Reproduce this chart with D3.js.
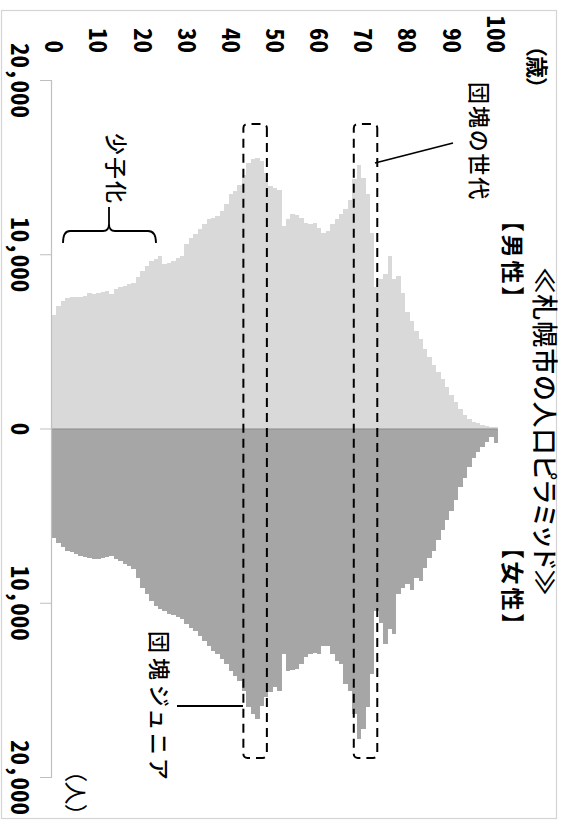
<!DOCTYPE html>
<html><head><meta charset="utf-8">
<script src="https://cdn.jsdelivr.net/npm/d3@7"></script>
<style>
html,body{margin:0;padding:0;background:#fff;}
svg{display:block;}
.jp{font-family:"Noto Sans CJK JP",sans-serif;font-feature-settings:"palt";}
.num{font-family:"Noto Sans Mono CJK JP","Liberation Sans Narrow","Liberation Sans",sans-serif;font-weight:700;}
</style></head>
<body>
<svg id="c" width="566" height="821"></svg>
<script>
// ---- data (ages 0..100, persons) ----
const ages = d3.range(0, 101);
const male = [6500,7050,7330,7470,7520,7560,7520,7580,7800,7700,
 7770,7850,7900,7700,8000,8100,8200,8300,8350,8670,
 9050,9330,9620,9710,9900,9430,9500,9620,9800,9900,
 10570,10950,11140,11430,11710,12000,12100,12190,12480,12860,
 13430,13620,14000,14570,15240,15470,15520,15330,14670,13900,
 13810,13710,11620,12000,12290,12230,12100,11810,11710,11810,
 11520,11240,11330,11710,12000,12290,12570,13140,14290,15140,
 14380,13430,11240,8100,8570,8860,9900,8570,8760,7800,
 6670,6190,5620,5140,4570,4100,3620,3240,2860,2380,
 1900,1520,1140,800,570,380,290,190,130,100,100];
const female = [6290,6570,6820,7050,7100,7200,7300,7390,7430,7470,
 7470,7430,7390,7330,7470,7620,7770,7900,8040,8570,
 9140,9520,9900,10190,10380,10480,10630,10700,10820,10950,
 11240,11430,11620,11900,12190,12480,12760,12950,13240,13520,
 13900,14190,14480,15050,16000,16380,16670,15900,15430,15140,
 14860,15050,12950,13900,13870,13800,13520,13140,12950,12860,
 12950,12480,12480,12950,13330,13520,14670,15050,16380,17810,
 17240,16000,14100,10480,11140,12380,11520,11810,9520,9140,
 8950,9240,8570,8760,8000,7430,7050,6380,5810,5240,
 4760,4100,3330,2860,2190,1710,1330,1050,760,480,860];
const ageTicks = [0,10,20,30,40,50,60,70,80,90,100];
const popTicks = [-20000,-10000,0,10000,20000];
const title = "≪札幌市の人口ピラミッド≫";
const maleLabel = "【男性】", femaleLabel = "【女性】";
const ageUnit = "（歳）", popUnit = "（人）";
const notes = {dankai:"団塊の世代", junior:"団塊ジュニア", shoshi:"少子化"};
const boxes = [[43,48],[68,73]];

// ---- layout: draw in an upright frame (821 x 566), rotate 90deg clockwise ----
const svg = d3.select("#c");
svg.append("rect").attr("x",1.5).attr("y",10.5).attr("width",555).attr("height",808)
  .attr("fill","#fff").attr("stroke","#d4d4d4").attr("stroke-width",1.2);
const g = svg.append("g").attr("transform","translate(566,0) rotate(90)");

const x = d3.scaleLinear().domain([-20000,20000]).range([80,777]);
const y = d3.scaleBand().domain(ages).range([514,68]).padding(0);

// bars
g.append("g").attr("shape-rendering","crispEdges").selectAll("rect.m").data(ages).join("rect")
  .attr("x",d=>x(-male[d])).attr("width",d=>x(0)-x(-male[d]))
  .attr("y",d=>y(d)).attr("height",y.bandwidth()).attr("fill","#d9d9d9");
g.append("g").attr("shape-rendering","crispEdges").selectAll("rect.f").data(ages).join("rect")
  .attr("x",x(0)).attr("width",d=>x(female[d])-x(0))
  .attr("y",d=>y(d)).attr("height",y.bandwidth()).attr("fill","#a6a6a6");

// age axis (category axis crossing at 0)
const ay = g.append("g").attr("transform",`translate(${x(0)},0)`)
  .call(d3.axisLeft(y).tickValues(ageTicks).tickSize(0));
ay.select(".domain").attr("stroke","#8c8c8c").attr("stroke-width",1.2);
ay.selectAll("text").attr("x",53-x(0)).attr("class","num")
  .attr("font-size",25).attr("fill","#000").attr("text-anchor","end").attr("dy","0.36em");

// population axis
const ax = g.append("g").attr("transform","translate(0,514)")
  .call(d3.axisBottom(x).tickValues(popTicks).tickSize(12).tickFormat(d=>d3.format(",")(Math.abs(d))));
ax.select(".domain").attr("stroke","#bfbfbf").attr("stroke-width",1.2);
ax.selectAll(".tick line").attr("stroke","#bfbfbf");
ax.selectAll("text").attr("class","num").attr("font-size",25).attr("fill","#000")
  .attr("y",32).attr("dy","0.36em");

// titles
const T = (t,u,v,size,anchor,weight)=>g.append("text").attr("class","jp").text(t)
  .attr("x",u).attr("y",v).attr("font-size",size).attr("text-anchor",anchor||"start")
  .attr("font-weight",weight||400).attr("dominant-baseline","central").attr("fill","#000");
T(title,432,20,26,"middle",500).attr("letter-spacing",1);
T(maleLabel,220,52,23,"start",700).attr("letter-spacing",3);
T(femaleLabel,547,52,23,"start",700).attr("letter-spacing",3);
T(ageUnit,67,27,22,"middle",700);
T(popUnit,793,489,23,"middle",400);

// dashed boxes
boxes.forEach(([a0,a1])=>{
  g.append("rect").attr("x",124).attr("width",634)
   .attr("y",y(a1)+1.5).attr("height",y(a0)+y.bandwidth()-y(a1)-3)
   .attr("rx",4).attr("fill","none").attr("stroke","#000").attr("stroke-width",2)
   .attr("stroke-dasharray","9,6");
});

// annotations
T(notes.dankai,82,85,22,"start",500).attr("letter-spacing",2);
g.append("line").attr("x1",143).attr("y1",113).attr("x2",163).attr("y2",191)
  .attr("stroke","#000").attr("stroke-width",1.8);
T(notes.shoshi,133,448,22,"start",500).attr("letter-spacing",2);
g.append("path").attr("fill","none").attr("stroke","#000").attr("stroke-width",1.8)
  .attr("d","M243,410 Q231,410 231,418 L231,451 Q231,457 224,457 Q231,457 231,463 L231,496 Q231,503 243,503 M207,457 L224,457");
T(notes.junior,631,405,22,"start",500).attr("letter-spacing",5);
g.append("line").attr("x1",706).attr("y1",389).attr("x2",706).attr("y2",323)
  .attr("stroke","#000").attr("stroke-width",1.8);
</script>
</body></html>
